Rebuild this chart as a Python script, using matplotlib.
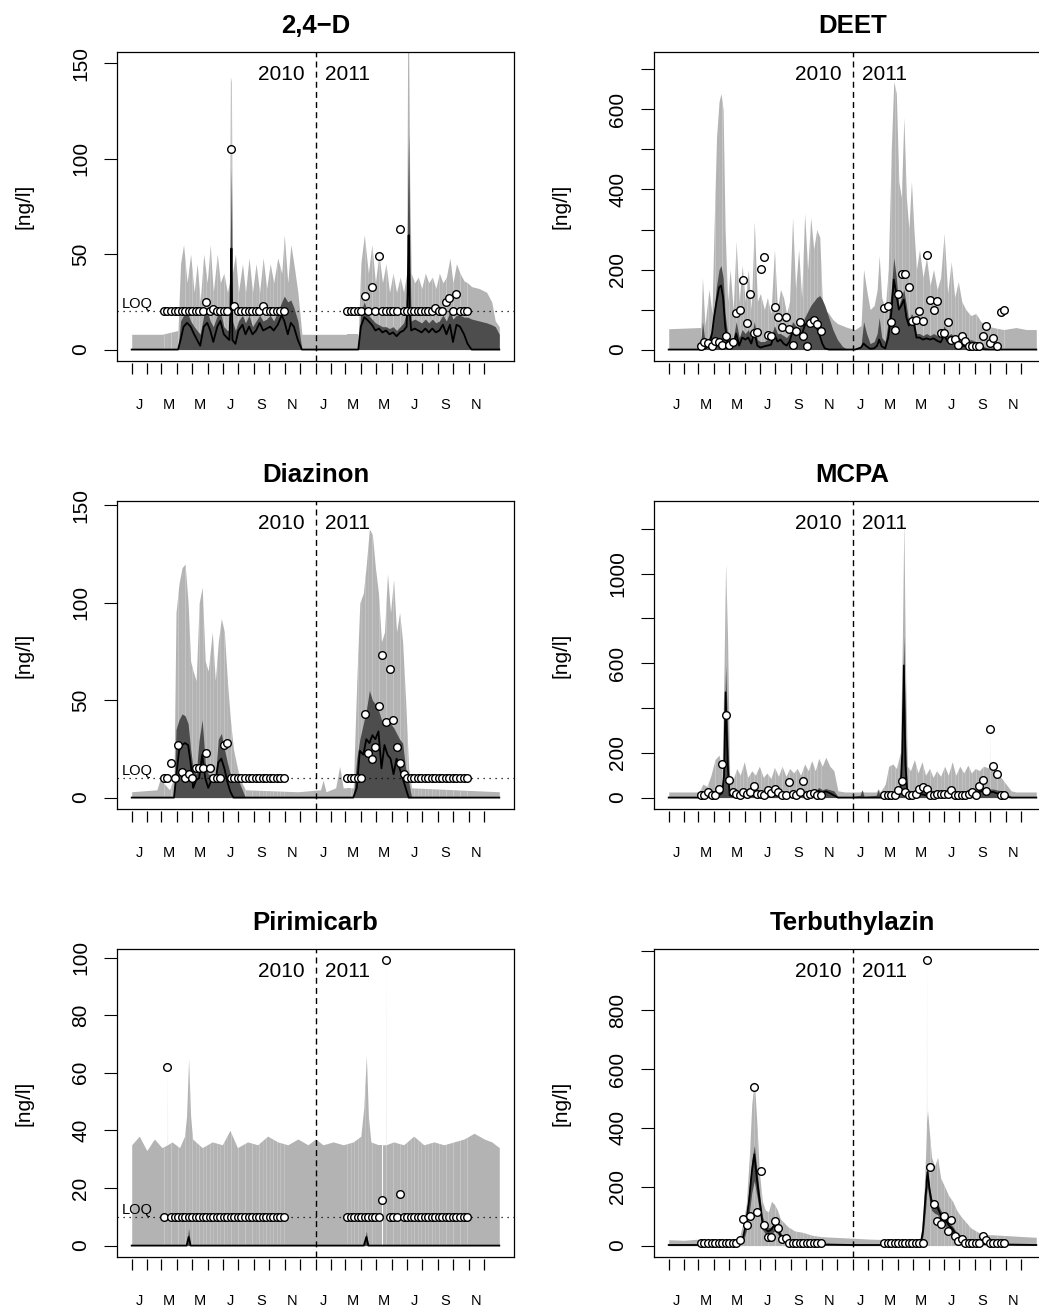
import numpy as np
import matplotlib
matplotlib.use("Agg")
import matplotlib.pyplot as plt
from matplotlib.transforms import blended_transform_factory

plt.rcParams['font.family'] = ['Liberation Sans', 'DejaVu Sans']

# time axis: days since 1 Jan 2010
MONTH_STARTS = [0, 31, 59, 90, 120, 151, 181, 212, 243, 273, 304, 334,
                365, 396, 424, 455, 485, 516, 546, 577, 608, 638, 669, 699]
MONTH_MID = [15, 74, 135, 196, 258, 319, 380, 439, 500, 561, 623, 684]
MONTH_LABELS = ['J', 'M', 'M', 'J', 'S', 'N', 'J', 'M', 'M', 'J', 'S', 'N']
YEAR_SPLIT = 365

# weekly grab samples (same dates for every compound)
SAMPLE_DAYS = [64, 71, 78, 85, 92, 99, 106, 113, 120, 127, 134, 141, 148, 155, 162, 169, 176, 183,
               190, 197, 204, 211, 218, 225, 232, 239, 246, 253, 260, 267, 274, 281, 288, 295, 302,
               428, 435, 442, 449, 456, 463, 470, 477, 484, 491, 498, 505, 512, 519, 526, 533, 540,
               547, 554, 561, 568, 575, 582, 589, 596, 603, 610, 617, 624, 631, 638, 645, 652, 659, 666]

# ---- 2,4-D ----
D24_T = [0, 60, 92, 97, 103, 110, 117, 124, 130, 136, 143, 150, 156, 162, 170, 176, 183, 190, 194, 196,
         198, 200, 206, 212, 220, 226, 233, 240, 247, 254, 261, 268, 275, 282, 290, 298, 303, 310, 316, 322,
         330, 338, 450, 455, 462, 470, 477, 484, 491, 498, 505, 512, 519, 526, 533, 540, 546, 548, 550, 552,
         555, 562, 569, 576, 583, 590, 597, 604, 611, 618, 625, 632, 638, 645, 652, 660, 667, 675, 690, 705,
         715, 722, 730]
D24_LIGHT = [8, 8, 10, 45, 55, 35, 50, 30, 45, 25, 50, 35, 55, 30, 50, 35, 40, 30, 35, 143,
             140, 40, 50, 30, 45, 30, 48, 30, 45, 30, 48, 32, 45, 35, 48, 40, 60, 35, 55, 45,
             30, 8, 8, 45, 60, 40, 55, 35, 50, 35, 45, 30, 40, 30, 38, 30, 40, 158, 158, 90,
             40, 35, 38, 32, 40, 35, 38, 32, 40, 35, 38, 48, 35, 45, 40, 36, 35, 33, 32, 30,
             25, 15, 12]
D24_DARK = [0, 0, 0, 15, 18, 20, 15, 12, 10, 8, 18, 20, 15, 12, 18, 20, 12, 10, 10, 60,
            95, 15, 10, 15, 18, 14, 18, 12, 15, 18, 15, 16, 18, 15, 20, 25, 28, 25, 26, 22,
            15, 0, 0, 20, 25, 18, 16, 14, 13, 12, 12, 11, 12, 10, 12, 14, 20, 80, 113, 60,
            15, 16, 15, 14, 16, 14, 16, 14, 15, 18, 15, 20, 16, 18, 18, 17, 17, 16, 15, 14,
            13, 12, 8]
D24_MED = [0, 0, 0, 5, 12, 14, 12, 8, 5, 2, 12, 14, 10, 4, 12, 15, 8, 6, 5, 20,
           53, 5, 3, 10, 13, 8, 12, 8, 10, 14, 10, 11, 12, 10, 13, 18, 15, 8, 14, 12,
           5, 0, 0, 12, 17, 15, 13, 10, 11, 9, 10, 8, 9, 7, 9, 10, 12, 30, 60, 20,
           10, 11, 10, 9, 11, 9, 11, 9, 10, 13, 8, 13, 4, 13, 12, 8, 3, 0, 0, 0,
           0, 0, 0]
D24_OBS = [20, 20, 20, 20, 20, 20, 20, 20, 20, 20, 20, 20, 25, 20, 21.5, 20, 20, 20,
           20, 105, 23, 20, 20, 20, 20, 20, 20, 20, 23, 20, 20, 20, 20, 20, 20,
           20, 20, 20, 20, 20, 28, 20, 33, 20, 49, 20, 20, 20, 20, 20, 63, 20,
           20, 20, 20, 20, 20, 20, 20, 20, 22, 20, 20, 25, 27, 20, 29, 20, 20, 20]
D24_YTICKS = [0, 50, 100, 150]
D24_YLABELS = ['0', '50', '100', '150']

# ---- DEET ----
DEET_T = [0, 60, 64, 67, 72, 80, 86, 90, 95, 100, 104, 108, 112, 117, 122, 128, 134, 140, 146, 152,
          158, 164, 170, 176, 182, 190, 196, 203, 210, 216, 222, 228, 234, 240, 246, 252, 258, 264, 270, 276,
          282, 288, 294, 300, 305, 310, 318, 326, 335, 345, 355, 370, 382, 387, 393, 400, 408, 414, 418, 423,
          430, 436, 442, 447, 452, 457, 462, 467, 472, 477, 482, 487, 492, 498, 505, 512, 519, 526, 533, 540,
          547, 554, 561, 568, 575, 582, 590, 600, 610, 620, 630, 645, 665, 690, 710, 730]
DEET_LIGHT = [52, 55, 55, 180, 60, 150, 90, 300, 530, 620, 640, 600, 300, 120, 200, 100, 270, 120, 210, 120,
              200, 100, 320, 120, 140, 100, 130, 90, 250, 100, 150, 130, 90, 120, 330, 150, 250, 130, 340, 200,
              330, 250, 300, 280, 120, 100, 90, 75, 65, 60, 55, 50, 60, 200, 150, 100, 110, 150, 235, 130,
              100, 200, 500, 670, 640, 420, 380, 580, 380, 300, 420, 300, 200, 250, 180, 230, 160, 200, 150, 180,
              290, 140, 220, 130, 170, 120, 100, 85, 90, 70, 60, 55, 50, 55, 50, 50]
DEET_DARK = [0, 0, 20, 70, 20, 30, 50, 100, 160, 200, 210, 180, 90, 40, 30, 25, 70, 30, 50, 40,
             50, 30, 70, 25, 20, 20, 25, 30, 60, 40, 40, 35, 30, 40, 70, 60, 55, 60, 80, 95,
             110, 120, 130, 135, 125, 110, 80, 50, 25, 8, 0, 0, 10, 70, 40, 15, 20, 40, 80, 30,
             20, 70, 150, 230, 180, 110, 130, 150, 110, 70, 90, 80, 40, 40, 35, 40, 35, 40, 35, 30,
             60, 35, 40, 30, 30, 25, 20, 25, 20, 12, 5, 0, 0, 0, 0, 0]
DEET_MED = [0, 0, 0, 0, 2, 10, 40, 80, 120, 155, 160, 130, 60, 15, 10, 10, 40, 10, 30, 25,
            30, 15, 45, 10, 5, 8, 10, 12, 38, 20, 25, 15, 10, 20, 45, 35, 40, 35, 60, 70,
            75, 65, 55, 35, 15, 3, 0, 0, 0, 0, 0, 0, 5, 15, 8, 2, 3, 10, 25, 8,
            3, 30, 90, 175, 140, 100, 110, 125, 80, 60, 75, 65, 30, 30, 25, 28, 25, 28, 22, 18,
            35, 20, 25, 15, 15, 10, 8, 5, 3, 1, 0, 0, 0, 0, 0, 0]
DEET_OBS = [10, 18, 17, 10, 22, 18, 12, 33, 12, 20, 92, 100, 173, 66, 140, 42, 43, 202,
            231, 37, 33, 106, 81, 56, 81, 52, 12, 46, 68, 35, 10, 66, 73, 63, 46,
            104, 108, 68, 48, 140, 188, 188, 156, 71, 74, 96, 71, 236, 125, 98, 121, 42,
            42, 68, 24, 27, 12, 33, 21, 10, 10, 10, 10, 35, 60, 17, 28, 10, 93, 98]
DEET_YTICKS = [0, 100, 200, 300, 400, 500, 600, 700]
DEET_YLABELS = ['0', '', '200', '', '400', '', '600', '']

# ---- Diazinon ----
DIAZ_T = [0, 50, 57, 65, 75, 84, 88, 94, 100, 106, 112, 117, 122, 128, 134, 140, 146, 152, 160, 166,
          172, 178, 184, 190, 196, 202, 210, 218, 226, 330, 375, 380, 386, 405, 413, 420, 440, 447, 453, 460,
          466, 472, 478, 484, 490, 496, 502, 508, 514, 520, 526, 532, 538, 544, 550, 556, 730]
DIAZ_LIGHT = [3, 4, 10, 7, 4, 10, 95, 110, 118, 120, 100, 70, 65, 60, 100, 108, 70, 65, 85, 60,
              80, 92, 85, 60, 40, 25, 15, 8, 4, 3, 4, 9, 3, 5, 16, 5, 5, 60, 100, 105,
              120, 138, 135, 118, 105, 80, 85, 115, 95, 112, 85, 95, 80, 50, 15, 5, 3]
DIAZ_DARK = [0, 0, 0, 0, 0, 0, 35, 40, 43, 42, 38, 25, 15, 12, 30, 40, 18, 12, 12, 10,
             30, 33, 25, 18, 12, 12, 10, 5, 0, 0, 0, 0, 0, 0, 0, 0, 0, 20, 30, 38,
             45, 55, 50, 48, 45, 40, 38, 40, 38, 36, 33, 30, 28, 15, 8, 0, 0]
DIAZ_MED = [0, 0, 0, 0, 0, 0, 10, 24, 27, 28, 27, 18, 5, 9, 10, 22, 10, 5, 10, 8,
            18, 20, 15, 8, 3, 0, 0, 0, 0, 0, 0, 0, 0, 0, 0, 0, 0, 5, 24, 22,
            30, 28, 32, 30, 34, 15, 27, 22, 20, 12, 20, 15, 10, 5, 0, 0, 0]
DIAZ_OBS = [10, 10, 18, 10, 27, 13, 10, 12, 10, 15, 15, 15, 23, 15, 10, 10, 10, 27,
            28, 10, 10, 10, 10, 10, 10, 10, 10, 10, 10, 10, 10, 10, 10, 10, 10,
            10, 10, 10, 10, 10, 43, 23, 20, 26, 47, 73, 39, 66, 40, 26, 18, 12,
            10, 10, 10, 10, 10, 10, 10, 10, 10, 10, 10, 10, 10, 10, 10, 10, 10, 10]
DIAZ_YTICKS = [0, 50, 100, 150]
DIAZ_YLABELS = ['0', '50', '100', '150']

# ---- MCPA ----
MCPA_T = [0, 60, 68, 76, 84, 92, 100, 106, 110, 113, 117, 121, 128, 135, 142, 150, 157, 165, 172, 180,
          188, 195, 203, 210, 218, 225, 233, 240, 248, 255, 262, 270, 277, 284, 291, 298, 305, 312, 320, 328,
          336, 350, 380, 384, 388, 412, 416, 420, 430, 437, 445, 452, 460, 464, 467, 470, 474, 480, 488, 495,
          503, 510, 518, 525, 532, 540, 548, 555, 563, 570, 578, 586, 594, 601, 609, 617, 625, 632, 637.8, 638,
          638.2, 645, 650, 660, 670, 680, 690, 730]
MCPA_LIGHT = [25, 25, 60, 50, 100, 170, 190, 120, 600, 1045, 700, 100, 80, 130, 100, 160, 90, 120, 100, 140,
              90, 110, 85, 135, 95, 140, 95, 130, 110, 130, 100, 150, 120, 165, 120, 175, 140, 180, 140, 120,
              30, 25, 25, 30, 25, 25, 40, 25, 60, 140, 150, 130, 200, 700, 1237, 600, 140, 120, 170, 110,
              160, 100, 130, 90, 120, 95, 140, 100, 160, 100, 140, 110, 145, 110, 130, 120, 140, 135, 130, 305,
              130, 130, 115, 90, 60, 30, 25, 25]
MCPA_DARK = [0, 5, 10, 10, 15, 20, 30, 40, 200, 590, 300, 30, 20, 20, 20, 25, 20, 25, 20, 25,
             20, 25, 20, 25, 20, 25, 20, 25, 20, 25, 20, 30, 25, 35, 30, 45, 35, 40, 35, 30,
             5, 0, 10, 35, 5, 10, 35, 5, 10, 20, 25, 30, 60, 400, 720, 300, 30, 25, 30, 25,
             30, 25, 30, 20, 25, 20, 25, 20, 30, 20, 25, 25, 30, 30, 35, 40, 45, 40, 38, 38,
             38, 38, 35, 30, 20, 5, 0, 0]
MCPA_MED = [0, 0, 2, 2, 5, 8, 10, 20, 100, 470, 150, 10, 5, 8, 8, 12, 8, 10, 8, 12,
            8, 10, 8, 12, 8, 10, 8, 12, 8, 12, 10, 15, 10, 25, 15, 30, 20, 28, 20, 10,
            0, 0, 0, 0, 0, 0, 0, 0, 2, 8, 10, 15, 30, 200, 590, 150, 15, 12, 15, 10,
            15, 10, 15, 10, 12, 8, 10, 8, 15, 8, 12, 10, 15, 15, 20, 25, 30, 25, 25, 25,
            25, 25, 20, 15, 5, 0, 0, 0]
MCPA_OBS = [10, 10, 25, 10, 10, 40, 152, 370, 77, 25, 18, 10, 25, 15, 25, 52, 15, 18,
            10, 33, 21, 40, 25, 10, 10, 70, 15, 10, 25, 74, 10, 15, 21, 10, 10,
            10, 10, 10, 10, 33, 74, 25, 10, 10, 18, 40, 48, 40, 10, 10, 18, 15,
            15, 15, 36, 10, 10, 10, 10, 18, 25, 10, 52, 80, 30, 305, 141, 107, 10, 10]
MCPA_YTICKS = [0, 200, 400, 600, 800, 1000, 1200]
MCPA_YLABELS = ['0', '200', '', '600', '', '1000', '']

# ---- Pirimicarb ----
PIRI_T = [0, 15, 30, 45, 60, 70.8, 71, 71.2, 80, 95, 105, 109, 113, 117, 121, 140, 160, 180, 195, 210,
          230, 250, 270, 290, 310, 330, 350, 365, 380, 400, 420, 440, 455, 461, 466, 470, 475, 490, 504.8, 505,
          505.2, 520, 540, 560, 580, 600, 620, 640, 660, 680, 700, 715, 730]
PIRI_LIGHT = [35, 38, 33, 37, 34, 35, 62, 35, 36, 34, 38, 45, 65, 45, 37, 34, 36, 35, 40, 34,
              36, 35, 38, 36, 35, 37, 35, 37, 35, 36, 35, 36, 38, 48, 66, 45, 36, 35, 35, 99,
              35, 36, 35, 38, 35, 36, 35, 36, 37, 39, 37, 36, 34]
PIRI_DARK = [0, 0, 0, 0, 0, 0, 0, 0, 0, 0, 0, 0, 6, 0, 0, 0, 0, 0, 0, 0,
             0, 0, 0, 0, 0, 0, 0, 0, 0, 0, 0, 0, 0, 0, 5, 0, 0, 0, 0, 0,
             0, 0, 0, 0, 0, 0, 0, 0, 0, 0, 0, 0, 0]
PIRI_MED = [0, 0, 0, 0, 0, 0, 0, 0, 0, 0, 0, 0, 3, 0, 0, 0, 0, 0, 0, 0,
            0, 0, 0, 0, 0, 0, 0, 0, 0, 0, 0, 0, 0, 0, 3, 0, 0, 0, 0, 0,
            0, 0, 0, 0, 0, 0, 0, 0, 0, 0, 0, 0, 0]
PIRI_OBS = [10, 62, 10, 10, 10, 10, 10, 10, 10, 10, 10, 10, 10, 10, 10, 10, 10, 10,
            10, 10, 10, 10, 10, 10, 10, 10, 10, 10, 10, 10, 10, 10, 10, 10, 10,
            10, 10, 10, 10, 10, 10, 10, 10, 10, 10, 16, 99, 10, 10, 10, 18, 10,
            10, 10, 10, 10, 10, 10, 10, 10, 10, 10, 10, 10, 10, 10, 10, 10, 10, 10]
PIRI_YTICKS = [0, 20, 40, 60, 80, 100]
PIRI_YLABELS = ['0', '20', '40', '60', '80', '100']

# ---- Terbuthylazin ----
TERB_T = [0, 30, 60, 90, 120, 140, 148, 154, 160, 165, 170, 175, 180, 186, 192, 198, 204, 210, 216, 222,
          228, 236, 250, 266, 285, 305, 330, 365, 400, 440, 480, 500, 505, 510, 511.8, 512, 512.2, 514, 518, 522,
          528, 534, 540, 548, 556, 564, 572, 580, 590, 600, 615, 630, 660, 690, 730]
TERB_LIGHT = [20, 18, 22, 18, 20, 25, 80, 140, 300, 480, 560, 420, 250, 150, 120, 115, 150, 140, 120, 90,
              80, 65, 50, 45, 35, 30, 28, 25, 22, 20, 20, 25, 100, 300, 400, 969, 420, 460, 380, 300,
              270, 300, 230, 200, 170, 150, 120, 100, 80, 60, 45, 38, 35, 32, 28]
TERB_DARK = [3, 3, 3, 3, 3, 5, 40, 100, 200, 290, 340, 260, 180, 100, 70, 60, 65, 80, 65, 45,
             30, 20, 12, 10, 8, 6, 5, 4, 3, 3, 3, 5, 60, 180, 220, 230, 240, 260, 200, 160,
             150, 145, 120, 100, 80, 65, 45, 35, 20, 15, 10, 8, 6, 5, 4]
TERB_DARK_LO = [0, 0, 0, 0, 0, 0, 15, 50, 110, 180, 220, 170, 120, 55, 40, 35, 40, 50, 40, 25,
                15, 8, 4, 3, 2, 1, 1, 0, 0, 0, 0, 1, 30, 120, 160, 170, 175, 200, 150, 120,
                110, 105, 85, 70, 55, 42, 28, 18, 10, 6, 4, 3, 2, 1, 1]
TERB_MED = [2, 2, 2, 2, 2, 4, 30, 80, 160, 250, 310, 230, 160, 80, 55, 48, 55, 70, 55, 35,
            25, 15, 8, 6, 5, 4, 3, 2, 2, 2, 2, 3, 50, 170, 200, 210, 220, 250, 190, 150,
            135, 130, 105, 90, 70, 55, 35, 25, 15, 10, 6, 5, 4, 3, 2]
TERB_OBS = [10, 10, 10, 10, 10, 10, 10, 10, 10, 10, 10, 19, 90, 70, 102, 540, 113, 255,
            70, 28, 28, 84, 59, 23, 25, 10, 10, 10, 10, 10, 10, 10, 10, 10, 10,
            10, 10, 10, 10, 10, 10, 10, 10, 10, 10, 10, 10, 969, 268, 141, 85, 74, 101,
            51, 87, 34, 17, 23, 10, 10, 10, 10, 10, 31, 19, 10, 10, 10, 10, 10]
TERB_YTICKS = [0, 200, 400, 600, 800, 1000]
TERB_YLABELS = ['0', '200', '400', '600', '800', '']

LIGHT = '#b3b3b3'
DARK = '#4d4d4d'
FIG_W, FIG_H = 1039, 1309

fig = plt.figure(figsize=(FIG_W / 100, FIG_H / 100), dpi=100)

ROW_PX = [(52, 361), (501, 809), (949, 1257)]
COL_PX = [117, 654]
BOX_W = 397


def fill_pieces(ax, t, y, color):
    # the band is drawn one sampling interval at a time (seams between pieces like the original)
    t = np.asarray(t, float)
    y = np.asarray(y, float)
    cuts = [t[0]] + SAMPLE_DAYS + [t[-1]]
    for a, b in zip(cuts[:-1], cuts[1:]):
        inner = (t > a) & (t < b)
        xs = np.concatenate([[a], t[inner], [b]])
        ys = np.concatenate([[np.interp(a, t, y)], y[inner], [np.interp(b, t, y)]])
        ax.fill_between(xs, 0, ys, color=color, lw=0)


def draw_panel(row, col, title, t, light, dark, med, obs, loq, ylim, yticks, ylabels, dark_lo=None):
    top, bot = ROW_PX[row]
    h = bot - top
    ax = fig.add_axes([COL_PX[col] / FIG_W, 1 - bot / FIG_H, BOX_W / FIG_W, h / FIG_H])
    lo = 0 if dark_lo is None else dark_lo
    fill_pieces(ax, t, light, LIGHT)
    ax.fill_between(t, lo, dark, color=DARK, lw=0)
    ax.plot(t, med, color='black', lw=1.3)
    if loq is not None:
        ax.axhline(loq, color='black', lw=0.9, ls=(0, (1, 3.8)))
        ax.annotate('LOQ', xy=(5 / BOX_W, loq), xycoords=('axes fraction', 'data'),
                    ha='left', va='bottom', fontsize=10.5)
    ax.axvline(YEAR_SPLIT, color='black', lw=1.0, ls=(0, (4.3, 3)))
    ax.plot(SAMPLE_DAYS, obs, 'o', mfc='white', mec='black', ms=5.5, mew=1.0, zorder=5)

    ax.set_xlim(-29.2, 759.2)
    ax.set_ylim(*ylim)
    ax.set_xticks([])
    ax.set_yticks(yticks)
    ax.set_yticklabels(ylabels, rotation=90, va='center', fontsize=15)
    ax.tick_params(axis='y', direction='out', length=9.6, width=0.8, pad=9.5)
    for s in ax.spines.values():
        s.set_linewidth(0.9)

    trans = blended_transform_factory(ax.transData, ax.transAxes)
    ax.vlines(MONTH_STARTS, -2.3 / h, -13 / h, transform=trans, clip_on=False,
              color='black', lw=0.9)
    for x, lab in zip(MONTH_MID, MONTH_LABELS):
        ax.text(x, -48 / h, lab, transform=trans, ha='center', va='baseline', fontsize=10.5)

    ax.annotate('2010', xy=(YEAR_SPLIT, 1 - 28 / h), xycoords=trans, xytext=(-8, 0),
                textcoords='offset points', ha='right', va='baseline', fontsize=15)
    ax.annotate('2011', xy=(YEAR_SPLIT, 1 - 28 / h), xycoords=trans, xytext=(7, 0),
                textcoords='offset points', ha='left', va='baseline', fontsize=15)

    ax.text(0.5, 1 + 19 / h, title, transform=ax.transAxes, ha='center', va='baseline',
            fontsize=18.5, fontweight='bold')
    ax.text(-93 / BOX_W, 0.5, '[ng/l]', transform=ax.transAxes, rotation=90,
            ha='center', va='center', fontsize=15)
    return ax


draw_panel(0, 0, '2,4\u2212D', D24_T, D24_LIGHT, D24_DARK, D24_MED, D24_OBS, 20,
           (-6, 156), D24_YTICKS, D24_YLABELS)
draw_panel(0, 1, 'DEET', DEET_T, DEET_LIGHT, DEET_DARK, DEET_MED, DEET_OBS, None,
           (-28.6, 743.6), DEET_YTICKS, DEET_YLABELS)
draw_panel(1, 0, 'Diazinon', DIAZ_T, DIAZ_LIGHT, DIAZ_DARK, DIAZ_MED, DIAZ_OBS, 10,
           (-5.86, 152.3), DIAZ_YTICKS, DIAZ_YLABELS)
draw_panel(1, 1, 'MCPA', MCPA_T, MCPA_LIGHT, MCPA_DARK, MCPA_MED, MCPA_OBS, None,
           (-51, 1324), MCPA_YTICKS, MCPA_YLABELS)
draw_panel(2, 0, 'Pirimicarb', PIRI_T, PIRI_LIGHT, PIRI_DARK, PIRI_MED, PIRI_OBS, 10,
           (-3.96, 102.96), PIRI_YTICKS, PIRI_YLABELS)
draw_panel(2, 1, 'Terbuthylazin', TERB_T, TERB_LIGHT, TERB_DARK, TERB_MED, TERB_OBS, None,
           (-38.8, 1007.6), TERB_YTICKS, TERB_YLABELS, dark_lo=TERB_DARK_LO)

fig.savefig('out.png', dpi=100)
